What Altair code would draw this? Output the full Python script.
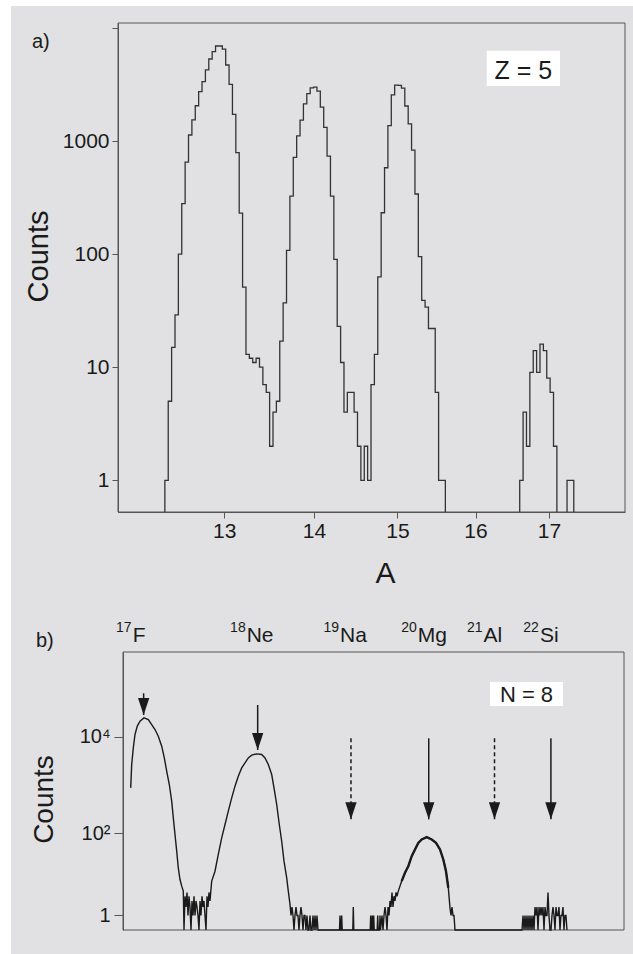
import altair as alt
import pandas as pd

# ---------------- panel a) : Z = 5 mass spectrum ----------------
TOP_FIRST_EDGE_A = 12.378      # A of the left edge of the first histogram bin
TOP_BIN_RATIO = 1.002796       # histogram bins are equal on the logarithmic A axis
TOP_COUNTS = (
    [0]
    + [1, 5, 15, 29, 100, 280, 650, 1130, 1535, 2050, 2730, 3345, 4250, 5310, 6160,
       6920, 6920, 6500, 4700, 3170, 1722, 788, 230, 51, 13, 12, 11, 12, 10, 7,
       6, 2, 4, 5, 17, 37, 108, 326, 718, 1110, 1530, 2130, 2620, 2950, 3000,
       2760, 1990, 1320, 735, 326, 90]
    + [23, 11, 4, 6, 6, 4, 2, 1, 2, 1, 7, 13, 63, 232, 580, 1370, 2560, 3120, 3100,
       2930, 2040, 1420, 830, 340, 95, 39, 34, 22, 22, 6, 1, 1]
    + [0] * 22
    + [1, 4, 2, 9, 14, 9, 16, 14, 8, 6, 2]
    + [0, 0, 0, 1, 1, 0]
)
TOP_X_TICKS = [13, 14, 15, 16, 17]
TOP_Y_TICKS = [1, 10, 100, 1000, 10000]
TOP_X_DOMAIN = [11.908, 18.103]
TOP_Y_DOMAIN = [0.5245, 11050]

# ---------------- panel b) : N = 8 spectrum (x = A/Q) ----------------
ISOTOPE_A = [17, 18, 19, 20, 21, 22]
ISOTOPE_Z = [9, 10, 11, 12, 13, 14]
ISOTOPE_SYMBOL = ["F", "Ne", "Na", "Mg", "Al", "Si"]
ARROW_TOP_COUNTS = [80000, 45700, 9350, 9350, 9350, 9350]
ARROW_TIP_COUNTS = [28400, 5350, 195, 195, 195, 195]
ARROW_DASHED = [False, False, True, False, True, False]

CURVE_F_AZ = [1.89897, 1.89819, 1.89694, 1.89562, 1.89383, 1.89172, 1.88860, 1.88525,
              1.88260, 1.88003, 1.87746, 1.87481, 1.87278, 1.87091, 1.86888, 1.86701,
              1.86576, 1.86444, 1.86311, 1.86187, 1.86054, 1.85922, 1.85797]
CURVE_F_COUNTS = [878, 2680, 5920, 11200, 16700, 21100, 24770, 22900, 18000, 14200,
                  10300, 6420, 3670, 1950, 1030, 465, 209, 94, 42, 18.4, 10.1, 7.1, 5.4]
CURVE_NE_AZ = [1.83583, 1.83326, 1.83069, 1.82804, 1.82546, 1.82289, 1.82024, 1.81767,
               1.81510, 1.81245, 1.80987, 1.80730, 1.80465, 1.80075, 1.79686, 1.79428,
               1.79171, 1.78906, 1.78727, 1.78516, 1.78314, 1.78127, 1.77947, 1.77737,
               1.77612, 1.77480]
CURVE_NE_COUNTS = [9.3, 15.5, 35.7, 80, 152, 288, 545, 952, 1535, 2280, 2900, 3670, 4180,
                   4450, 4320, 3670, 2680, 1660, 878, 397, 152, 68, 25.7, 11, 5.4, 2.4]
CURVE_MG_AZ = [1.69038, 1.68773, 1.68516, 1.68258, 1.67993, 1.67736, 1.67479, 1.67214,
               1.66824, 1.66434, 1.66099, 1.65787, 1.65530, 1.65320, 1.65140, 1.65008]
CURVE_MG_COUNTS = [5.4, 9.3, 14.3, 20, 32.8, 45.5, 62.8, 74, 82.7, 74, 62.8, 45.5, 27.9,
                   15.5, 6.5, 1.87]

# low-statistics stretches, one value per detector channel
CHANNEL_AZ = 0.000779
NOISE_START_AZ = [1.85742, 1.77402, 1.70308, 1.64930, 1.59395]
NOISE_COUNTS = [
    [0, 4, 2, 5, 1, 4, 2, 0, 3, 1, 4, 1, 3, 2, 1, 0, 3, 1, 4, 2, 3, 1, 0, 4, 2, 5, 3, 6],
    [1, 2, 1, 0, 1, 2, 1, 1, 0, 1, 2, 1, 0, 1, 1, 0, 1, 0, 0, 1, 0, 0, 1, 0, 1, 0, 1, 0],
    [1, 0, 1, 2, 1, 0, 2, 1, 3, 2, 5, 2, 4, 3, 5, 4],
    [1, 2, 1, 1, 0],
    [0, 1, 0, 1, 0, 1, 0, 1, 0, 1, 0, 1, 0, 2, 1, 2, 0, 2, 1, 2, 1, 2, 0, 2, 1, 1, 5, 1,
     0, 0, 1, 2, 1, 0, 2, 1, 1, 2, 0, 1, 1, 2, 0, 1, 1, 0],
]
SPIKE_AZ = [1.73582, 1.73450, 1.72546, 1.71189, 1.71065, 1.70955, 1.70644, 1.70464]
SPIKE_COUNTS = [1, 1, 2, 1, 1, 1, 1, 1]

BOT_X_DOMAIN = [1.514449, 1.904972]
BOT_Y_DOMAIN = [0, 573000]
BOT_Y_TICKS = [1, 100, 10000]

# ---------------- data tables ----------------
top_edges = [TOP_FIRST_EDGE_A * TOP_BIN_RATIO ** (i - 1) for i in range(len(TOP_COUNTS))]
df_top = pd.DataFrame({"A": top_edges, "counts": TOP_COUNTS})

pts = list(zip(CURVE_F_AZ, CURVE_F_COUNTS)) + list(zip(CURVE_NE_AZ, CURVE_NE_COUNTS)) \
    + list(zip(CURVE_MG_AZ, CURVE_MG_COUNTS))
for start, counts in zip(NOISE_START_AZ, NOISE_COUNTS):
    pts += [(start - j * CHANNEL_AZ, c) for j, c in enumerate(counts)]
for az, c in zip(SPIKE_AZ, SPIKE_COUNTS):
    pts += [(az + CHANNEL_AZ * 0.5, 0), (az, c), (az - CHANNEL_AZ * 0.5, 0)]
df_bot = pd.DataFrame(pts, columns=["az", "counts"]).sort_values("az")

df_iso = pd.DataFrame({
    "A": ISOTOPE_A, "Z": ISOTOPE_Z, "sym": ISOTOPE_SYMBOL,
    "top": ARROW_TOP_COUNTS, "tip": ARROW_TIP_COUNTS, "dashed": ARROW_DASHED,
})
one = pd.DataFrame({"k": [0]})

INK = "#1a1a1a"
FRAME = "#555555"
BG = "#e1e1e3"

def rect(x, x2, y, y2, color):
    return alt.Chart(one).mark_rect(color=color).encode(
        x=alt.value(x), x2=alt.value(x2), y=alt.value(y), y2=alt.value(y2))

def frame(x, x2, y, y2):
    return alt.Chart(one).mark_rect(fillOpacity=0, stroke=FRAME, strokeWidth=1).encode(
        x=alt.value(x), x2=alt.value(x2), y=alt.value(y), y2=alt.value(y2))

def label(txt, x, y, size, align="left"):
    return alt.Chart(one).mark_text(text=txt, fontSize=size, align=align,
                                    baseline="alphabetic", color=INK).encode(
        x=alt.value(x), y=alt.value(y))

# ---------------- panel a ----------------
x_top = alt.X(
    "A:Q",
    scale=alt.Scale(type="log", domain=TOP_X_DOMAIN, nice=False),
    axis=alt.Axis(values=TOP_X_TICKS, format="d", tickSize=6, labelFontSize=21,
                  labelPadding=2, title="A", titleFontSize=30, titleX=267,
                  titleY=70, titleBaseline="alphabetic", titleAlign="center",
                  zindex=1),
)
y_top = alt.Y(
    "yv:Q",
    scale=alt.Scale(type="log", domain=TOP_Y_DOMAIN, nice=False),
    axis=alt.Axis(values=TOP_Y_TICKS, format="d", tickSize=6, labelFontSize=21,
                  labelPadding=3,
                  labelExpr="datum.value >= 10000 ? '' : datum.label",
                  title="Counts", titleFontSize=29, titleX=-71, titleY=233,
                  titleBaseline="alphabetic", titleAlign="center", zindex=1),
)
top_line = alt.Chart(df_top).transform_calculate(
    yv="max(datum.counts, 0.3)"
).mark_line(interpolate="step-after", clip=True, color="#333333", strokeWidth=1.3).encode(
    x=x_top, y=y_top
)

top = alt.layer(
    rect(-118, -107, -23, 577, "white"),
    rect(-118, 515, -23, -17, "white"),
    frame(0, 507, 0, 489),
    top_line,
    rect(368.7, 442, 27.7, 63, "white"),
    label("Z = 5", 405.3, 56, 25, "center"),
    label("a)", -86, 25, 20),
).properties(width=507, height=489)

# ---------------- panel b ----------------
x_scale_bot = alt.Scale(domain=BOT_X_DOMAIN, range=[506, 5], nice=False, zero=False)
x_bot = alt.X("az:Q", scale=x_scale_bot, axis=None)
y_scale_bot = alt.Scale(type="symlog", constant=1, domain=BOT_Y_DOMAIN, nice=False)
y_bot = alt.Y(
    "counts:Q", scale=y_scale_bot,
    axis=alt.Axis(values=BOT_Y_TICKS, tickSize=9, labelFontSize=20, labelPadding=4,
                  offset=-5,
                  labelExpr="datum.value == 1 ? '1' : (datum.value == 100 ? '10²' : '10⁴')",
                  title="Counts", titleFontSize=28, titleX=-71, titleY=147,
                  titleBaseline="alphabetic", titleAlign="center", zindex=1),
)
bot_line = alt.Chart(df_bot).mark_line(color=INK, strokeWidth=1.4).encode(
    x=x_bot, y=y_bot, order="az:Q")
mg_thick = alt.Chart(df_bot).transform_filter(
    "datum.az > 1.6505 && datum.az < 1.688"
).mark_line(color=INK, strokeWidth=2.4).encode(
    x=x_bot, y=alt.Y("counts:Q", scale=y_scale_bot), order="az:Q")

iso = alt.Chart(df_iso).transform_calculate(
    az="datum.A / datum.Z", mass="'' + datum.A")
x_iso = alt.X("az:Q", scale=x_scale_bot, axis=None)
shaft_solid = iso.transform_filter("!datum.dashed").mark_rule(
    color=INK, strokeWidth=1.5).encode(
    x=x_iso, y=alt.Y("top:Q", scale=y_scale_bot), y2="tip:Q")
shaft_dash = iso.transform_filter("datum.dashed").mark_rule(
    color=INK, strokeWidth=1.5, strokeDash=[4, 3]).encode(
    x=x_iso, y=alt.Y("top:Q", scale=y_scale_bot), y2="tip:Q")
heads = iso.mark_point(shape="M-0.665,-2L0.665,-2L0,0Z", size=289, filled=True,
                       color=INK, opacity=1).encode(
    x=x_iso, y=alt.Y("tip:Q", scale=y_scale_bot))
mass_txt = iso.mark_text(fontSize=14, align="right", baseline="alphabetic",
                         dx=-12, color=INK).encode(
    x=x_iso, y=alt.value(-20.3), text="mass:N")
sym_txt = iso.mark_text(fontSize=21, align="left", baseline="alphabetic",
                        dx=-11, color=INK).encode(
    x=x_iso, y=alt.value(-10.3), text="sym:N")

bot = alt.layer(
    rect(-118, -107, -52, 302, "white"),
    frame(5, 506, 0, 278),
    bot_line,
    mg_thick,
    shaft_solid,
    shaft_dash,
    heads,
    mass_txt,
    sym_txt,
    rect(372, 445, 30, 54, "white"),
    label("N = 8", 408.5, 50, 22, "center"),
    label("b)", -82, -5, 20),
).properties(width=507, height=278)

chart = alt.concat(top, bot, columns=1, spacing=0).properties(
    background=BG, padding={"left": 0, "top": 0, "right": 0, "bottom": 0},
    autosize=alt.AutoSizeParams(type="pad"),
).configure(font="Liberation Sans").configure_view(
    stroke=None
).configure_axis(
    domainColor=FRAME, tickColor=FRAME, labelColor=INK, titleColor=INK,
    titleFontWeight="normal", grid=False
)

chart.save("out.html", embed_options={"renderer": "svg", "actions": False})
